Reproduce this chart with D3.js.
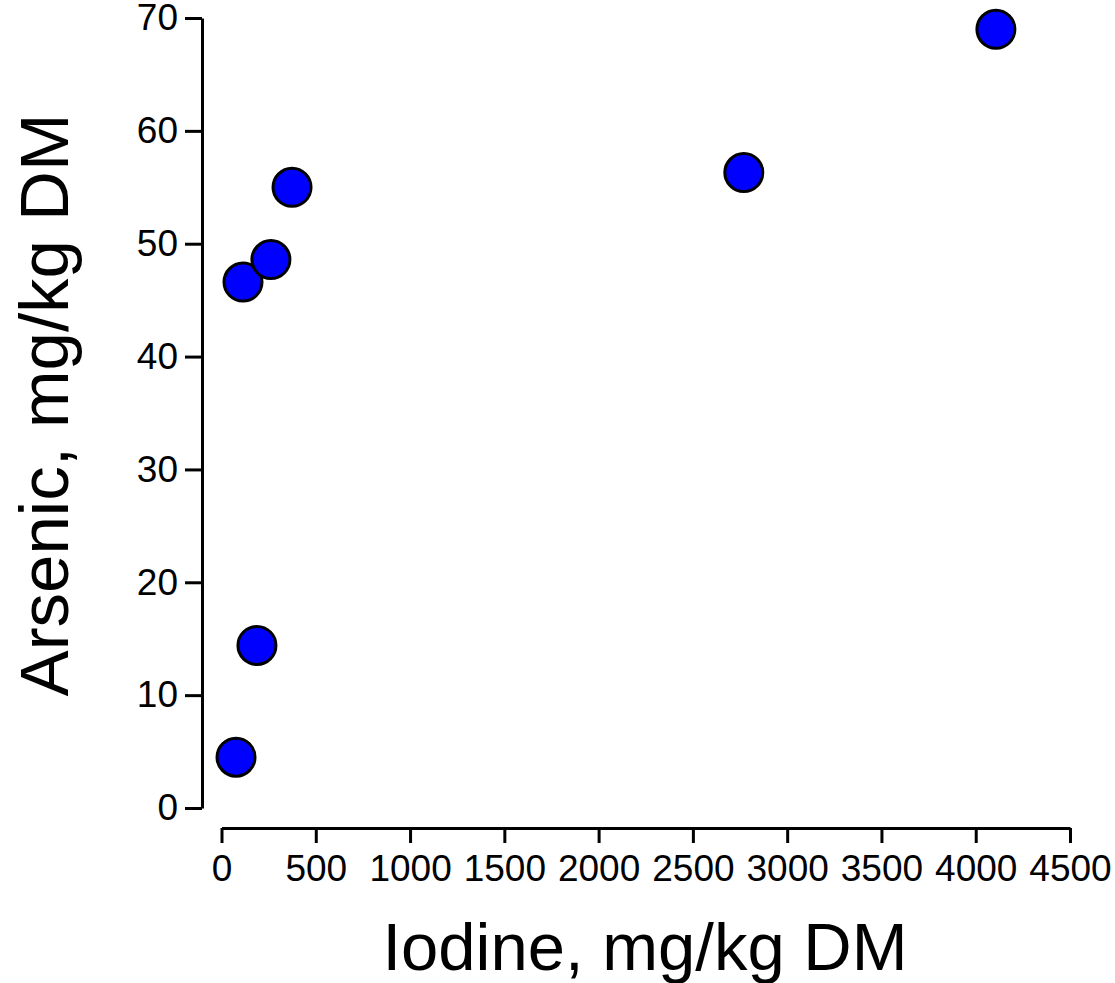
<!DOCTYPE html>
<html>
<head>
<meta charset="utf-8">
<script src="https://cdn.jsdelivr.net/npm/d3@7"></script>
<style>
  body { margin: 0; background: #fff; }
  text { font-family: "Liberation Sans", Arial, sans-serif; fill: #000; }
</style>
</head>
<body>
<div id="viz"></div>
<script>
// iodine vs arsenic, one point per sample
let iodine = [77, 114, 188, 262, 374, 2770, 4107];
let arsenic = [4.5, 46.6, 14.4, 48.6, 55.0, 56.3, 69.0];

let xTicks = [0, 500, 1000, 1500, 2000, 2500, 3000, 3500, 4000, 4500];
let yTicks = [0, 10, 20, 30, 40, 50, 60, 70];

let xLabel = "Iodine, mg/kg DM";
let yLabel = "Arsenic, mg/kg DM";

//dimensions
let dimensions = {
    width: 1115,
    height: 983
}

const svg = d3.select("#viz").append("svg")
    .attr("width", dimensions.width)
    .attr("height", dimensions.height)

//scales, picked to line up with the frame of the original plot
const xScale = d3.scaleLinear()
    .domain([0, 4500])
    .range([221.5, 1070]);

const yScale = d3.scaleLinear()
    .domain([0, 70])
    .range([808, 18]);

// y axis sits a little left of x=0, x axis a little below y=0 (detached axes)
const yAxisX = 202;
const xAxisY = 828;

const yAxis = svg.append("g")
    .attr("transform", `translate(${yAxisX},0)`)
    .call(d3.axisLeft(yScale).tickValues(yTicks).tickFormat(d3.format("d"))
        .tickSize(17).tickPadding(7).tickSizeOuter(0));

const xAxis = svg.append("g")
    .attr("transform", `translate(0,${xAxisY})`)
    .call(d3.axisBottom(xScale).tickValues(xTicks).tickFormat(d3.format("d"))
        .tickSize(15).tickPadding(12).tickSizeOuter(0));

[xAxis, yAxis].forEach(function(ax) {
    ax.select(".domain").attr("stroke-width", 3);
    ax.selectAll(".tick line").attr("stroke-width", 3);
    ax.selectAll(".tick text")
        .style("font-size", "37px")
        .style("font-family", "Liberation Sans, Arial, sans-serif");
});

// axis titles
svg.append("text")
    .attr("x", 645)
    .attr("y", 970)
    .attr("text-anchor", "middle")
    .style("font-size", "67px")
    .text(xLabel);

svg.append("text")
    .attr("transform", `translate(68,405) rotate(-90)`)
    .attr("text-anchor", "middle")
    .style("font-size", "69px")
    .text(yLabel);

// the points
svg.append("g")
    .selectAll("circle")
    .data(iodine)
    .join("circle")
        .attr("cx", function(d) { return xScale(d); })
        .attr("cy", function(d, i) { return yScale(arsenic[i]); })
        .attr("r", 19)
        .attr("fill", "#0000ff")
        .attr("stroke", "#000")
        .attr("stroke-width", 3);
</script>
</body>
</html>
